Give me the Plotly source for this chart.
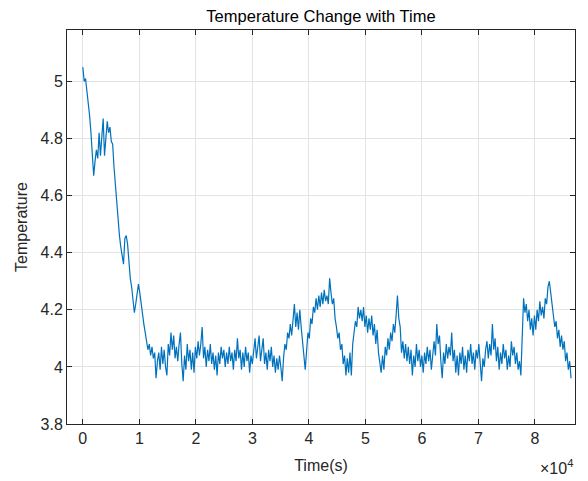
import plotly.graph_objects as go

# samples every 240 s from 0 to 86400 s (one day)
t_step = 240

# temperature readings
temp_drop = [5.05, 5.00, 5.01, 4.97, 4.94, 4.88, 4.82, 4.74, 4.67, 4.72,
             4.76, 4.73, 4.82, 4.74, 4.80, 4.87, 4.74, 4.82, 4.86, 4.82,
             4.84, 4.79, 4.78, 4.70, 4.64, 4.57, 4.50, 4.46, 4.42, 4.39,
             4.36, 4.45, 4.46, 4.43, 4.36, 4.31, 4.28, 4.24, 4.19, 4.22,
             4.25, 4.29, 4.26, 4.22, 4.17, 4.15, 4.12, 4.08, 4.06, 4.08,
             4.04, 4.07, 4.03, 4.05, 3.96, 4.02]

temp_flat1 = [4.05, 3.99, 4.07, 4.01, 4.06, 4.00, 3.97, 4.08, 4.04, 4.12,
              4.06, 4.11, 4.03, 4.07, 4.02, 4.08, 4.12, 4.01, 3.95, 4.04,
              3.99, 4.08, 4.02, 4.06, 3.99, 4.05, 3.98, 4.07, 4.03, 4.09,
              4.04, 4.08, 4.14, 4.03, 4.07, 4.00, 4.06, 4.02, 4.08, 4.01,
              4.05, 3.99, 4.04, 3.97, 4.05, 4.01, 4.07, 4.03, 4.06, 4.00,
              4.05, 4.01, 4.07, 4.02, 4.05, 3.99, 4.06, 4.02, 4.10, 4.03,
              4.06, 3.99, 4.05, 4.00, 4.07, 4.02, 4.05, 3.98, 4.04, 4.01,
              4.06, 4.10, 4.03, 4.08, 4.11, 4.02, 4.06, 4.10, 4.01, 4.05,
              3.99, 4.06, 4.02, 4.07, 4.00, 4.04, 3.98, 4.03, 3.99, 4.04,
              4.00, 3.95]

temp_mid = [4.03, 4.08, 4.06, 4.12, 4.10, 4.15, 4.11, 4.18, 4.22, 4.14,
            4.19, 4.13, 4.20, 4.14, 4.10, 4.04, 3.99, 4.06, 4.12, 4.10,
            4.17, 4.15, 4.21, 4.19, 4.24, 4.20, 4.25, 4.21, 4.26, 4.22,
            4.27, 4.23, 4.25, 4.22, 4.31, 4.26, 4.22, 4.24, 4.17, 4.14,
            4.10, 4.12, 4.06, 4.08, 4.01, 4.04, 3.97, 4.03, 3.98, 4.05,
            3.97, 4.08, 4.12, 4.16, 4.14, 4.21, 4.17, 4.20, 4.16, 4.21,
            4.14, 4.18, 4.12, 4.17, 4.13, 4.18, 4.11, 4.15, 4.08, 4.13,
            4.05, 4.01, 3.98, 4.04, 3.99, 4.07, 4.04, 4.10, 4.06, 4.12,
            4.09, 4.15, 4.12, 4.18, 4.25, 4.17, 4.14, 4.05, 4.09, 4.03,
            4.08, 4.02, 4.07, 4.01, 4.06, 3.97, 4.04, 4.00, 4.08, 4.02,
            4.06, 4.00, 4.04, 3.98, 4.05]

temp_flat2 = [4.01, 4.07, 4.02, 4.06, 3.99, 4.05, 4.09, 4.04, 4.15, 4.08,
              4.11, 4.02, 3.96, 4.05, 4.01, 4.08, 4.03, 4.07, 4.04, 4.12,
              4.02, 4.06, 3.98, 4.04, 3.97, 4.05, 4.01, 4.07, 3.99, 4.04,
              3.98, 4.06, 4.02, 4.08, 4.01, 4.05, 3.99, 4.06, 4.03, 4.08,
              4.00, 3.95, 4.03, 4.00, 4.06, 4.09, 4.03, 4.08, 4.04, 4.15,
              4.06, 4.10, 4.02, 4.07, 3.99, 4.05, 4.01, 4.08, 4.03, 4.06,
              3.99, 4.04, 4.00, 4.09, 4.04, 4.07, 4.01, 4.05, 3.99, 4.02,
              3.97]

temp_end = [4.10, 4.24, 4.19, 4.22, 4.16, 4.20, 4.13, 4.17, 4.11, 4.18,
            4.13, 4.20, 4.16, 4.23, 4.18, 4.21, 4.17, 4.24, 4.22, 4.28,
            4.30, 4.25, 4.22, 4.18, 4.14, 4.16, 4.10, 4.13, 4.07, 4.11,
            4.06, 4.09, 4.02, 4.05, 3.99, 4.02, 3.96]

temperature = temp_drop + temp_flat1 + temp_mid + temp_flat2 + temp_end
time_s = [i * t_step for i in range(len(temperature))]

x_ticks = [0, 10000, 20000, 30000, 40000, 50000, 60000, 70000, 80000]
x_labels = ['0', '1', '2', '3', '4', '5', '6', '7', '8']
y_ticks = [3.8, 4.0, 4.2, 4.4, 4.6, 4.8, 5.0]
y_labels = ['3.8', '4', '4.2', '4.4', '4.6', '4.8', '5']

TXT = '#262626'

fig = go.Figure()
fig.add_trace(go.Scatter(x=time_s, y=temperature, mode='lines',
                         line=dict(color='#0072BD', width=1.2)))

axis_style = dict(showline=True, linecolor=TXT, linewidth=1, mirror='allticks',
                  ticks='inside', ticklen=5, tickcolor=TXT,
                  showgrid=True, gridcolor='#e3e3e3', gridwidth=1, zeroline=False,
                  tickfont=dict(size=16, color=TXT))

fig.update_xaxes(range=[-2800, 87100], tickvals=x_ticks, ticktext=x_labels,
                 title=dict(text='Time(s)', font=dict(size=16, color=TXT), standoff=13),
                 **axis_style)
fig.update_yaxes(range=[3.8, 5.18], tickvals=y_ticks, ticktext=y_labels,
                 title=dict(text='Temperature', font=dict(size=16, color=TXT), standoff=8),
                 **axis_style)

fig.add_annotation(text='×10<sup>4</sup>', xref='paper', yref='paper', x=1.0, y=-0.108,
                   xanchor='right', yanchor='middle', showarrow=False,
                   font=dict(size=16, color=TXT))

# page body has an 8px margin, so the margins are shifted to compensate
fig.update_layout(
    width=588, height=481,
    margin=dict(l=59, r=21, t=22, b=65),
    paper_bgcolor='white', plot_bgcolor='white',
    font=dict(family='Liberation Sans, Arial, sans-serif'),
    title=dict(text='Temperature Change with Time', x=0.5, xanchor='center',
               xref='paper', y=1, yref='container', yanchor='top',
               pad=dict(t=2),
               font=dict(size=16.5, color='#000000')),
    showlegend=False,
)

fig.write_html("out.html")
